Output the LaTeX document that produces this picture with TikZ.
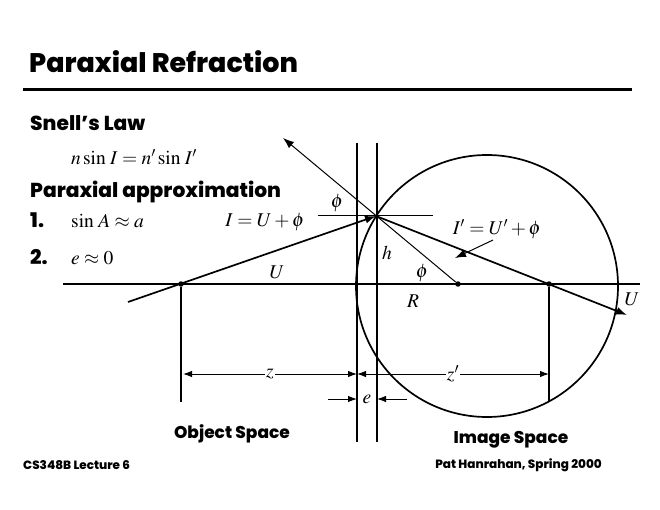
\documentclass[tikz,border=0pt]{standalone}
\usepackage{mathptmx}
\usepackage[no-math]{fontspec}
\setsansfont{Poppins}[BoldFont={Poppins ExtraBold}]
\usetikzlibrary{arrows.meta}

\begin{document}
\begin{tikzpicture}[x=1pt, y=-1pt, >={Latex[length=11pt,width=8pt]},
    dot/.style={circle, fill, inner sep=0pt, minimum size=5.5pt},
    ray/.style={line width=1.7pt},
    fine/.style={line width=1pt},
    axis/.style={line width=1.2pt},
    dim/.style={line width=1pt, >={Latex[length=9pt,width=6.5pt]}},
    head/.style={font=\sffamily\bfseries\fontsize{20.2}{23}\selectfont, anchor=base west, inner sep=0pt},
    foot/.style={font=\sffamily\bfseries\fontsize{12}{14}\selectfont, inner sep=0pt},
    lbl/.style={font=\fontsize{19.5}{22}\selectfont, inner sep=1pt}]
    \useasboundingbox (0,0) rectangle (660,510);
    % title and rule
    \node[head, font=\sffamily\bfseries\fontsize{26.9}{30}\selectfont] (title) at (29,73) {Paraxial Refraction};
    \draw[line width=3pt] (23,90) -- (632,90);
    % text on the left
    \node[head] (snell) at (30,131) {Snell’s Law};
    \node[lbl, anchor=base west] (snelleq) at (70,165) {$n\sin\, I = n'\sin\, I'$};
    \node[head] (parax) at (30,198) {Paraxial approximation};
    \node[head] (one) at (30,228) {1.};
    \node[lbl, anchor=base west] (approx1) at (70,228) {$\sin\, A \approx a$};
    \node[head] (two) at (30,264) {2.};
    \node[lbl, anchor=base west] (approx2) at (70,264) {$e \approx 0$};
    % points
    \coordinate (axL) at (63,284);
    \coordinate (axR) at (640,284);
    \coordinate (P) at (376,216);
    \coordinate (src) at (128,302);
    \coordinate (out) at (627,315);
    \coordinate (nrm) at (283,138);
    \coordinate (hL) at (318,216);
    \coordinate (hR) at (433,216);
    \coordinate (sphere) at (487,286);
    \node[dot] (obj) at (181,284) {};
    \node[dot] (img) at (549,284) {};
    \node[dot] (ctr) at (458,284) {};
    % axis, surfaces and sphere
    \draw[axis] (axL) -- (axR);
    \draw[axis] (357,143) -- (357,442);
    \draw[axis] (377,143) -- (377,442);
    \draw[ray] (sphere) circle[radius=131];
    \draw[axis] (obj) -- (181,402);
    \draw[axis] (img) -- (549,402);
    % rays
    \draw[ray, ->] (src) -- (P);
    \draw[ray, ->] (P) -- (out);
    \draw[fine, ->] (ctr) -- (nrm);
    \draw[fine] (hL) -- (hR);
    \draw[fine, ->] (493,240) -- (455,258);
    % labels
    \node[lbl] (phi1) at (337,203) {$\phi$};
    \node[lbl] (eqI) at (265,222) {$I = U + \phi$};
    \node[lbl] (eqIp) at (497,229) {$I' = U' + \phi$};
    \node[lbl] (h) at (387,253) {$h$};
    \node[lbl] (phi2) at (422,273) {$\phi$};
    \node[lbl] (R) at (413,301) {$R$};
    \node[lbl] (U1) at (277,272) {$U$};
    \node[lbl] (U2) at (632,299) {$U$};
    % dimensions
    \draw[dim, <->] (183,374) -- node[lbl, fill=white] (z) {$z$} (357,374);
    \draw[dim, <->] (357,374) -- node[lbl, fill=white] (zp) {$z'$} (549,374);
    \draw[dim, ->] (328,399) -- (357,399);
    \draw[dim, ->] (407,399) -- (377,399);
    \node[lbl] (e) at (367,399) {$e$};
    % captions
    \node[font=\sffamily\bfseries\fontsize{17}{20}\selectfont] (objsp) at (232,434) {Object Space};
    \node[font=\sffamily\bfseries\fontsize{17}{20}\selectfont] (imgsp) at (511,440) {Image Space};
    \node[foot, anchor=west] (course) at (23,465) {CS348B Lecture 6};
    \node[foot, anchor=east] (author) at (602,465) {Pat Hanrahan, Spring 2000};
\end{tikzpicture}
\end{document}
